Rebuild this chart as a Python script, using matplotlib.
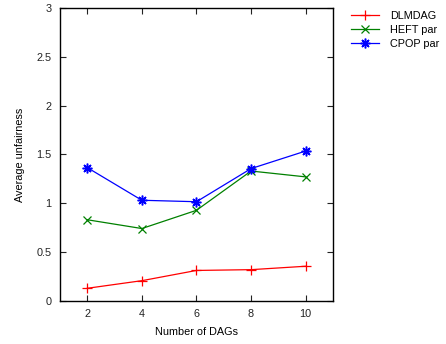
import matplotlib
matplotlib.use("Agg")
from matplotlib import pyplot as plt

# data
dags = [2, 4, 6, 8, 10]
dlmdag = [0.127, 0.205, 0.31, 0.318, 0.353]
heft_par = [0.83, 0.74, 0.927, 1.33, 1.27]
cpop_par = [1.365, 1.03, 1.015, 1.355, 1.535]

plt.rcParams['font.family'] = ['Liberation Sans', 'DejaVu Sans']
plt.rcParams['font.size'] = 7.8

fig = plt.figure(figsize=(4.46, 3.44), dpi=100)
ax = fig.add_axes([0.1345, 0.126, 0.612, 0.85])

ax.plot(dags, dlmdag, color='#ff0000', marker='+', markersize=7, mew=0.9, lw=0.9, label='DLMDAG')
ax.plot(dags, heft_par, color='#008000', marker='x', markersize=5.5, mew=0.9, lw=0.9, label='HEFT par')
ax.plot(dags, cpop_par, color='#0000ff', marker=(8, 2, 0), markersize=7, mew=1.1, lw=0.9, label='CPOP par')

ax.set_xlim(1, 11)
ax.set_ylim(0, 3)
ax.set_xticks([2, 4, 6, 8, 10])
ax.set_yticks([0, 0.5, 1, 1.5, 2, 2.5, 3])
ax.set_yticklabels(['0', '0.5', '1', '1.5', '2', '2.5', '3'])
ax.tick_params(direction='in', top=True, right=True, length=4, width=0.8, pad=6, colors='#222222')
for sp in ax.spines.values():
    sp.set_linewidth(1.0)

ax.set_xlabel('Number of DAGs', labelpad=6)
ax.set_ylabel('Average unfairness', labelpad=8)

ax.legend(loc='upper left', bbox_to_anchor=(1.05, 1.005), frameon=False,
          handlelength=2.6, handletextpad=1.0, labelspacing=0.35, borderaxespad=0)

fig.savefig('out.png', dpi=100)
